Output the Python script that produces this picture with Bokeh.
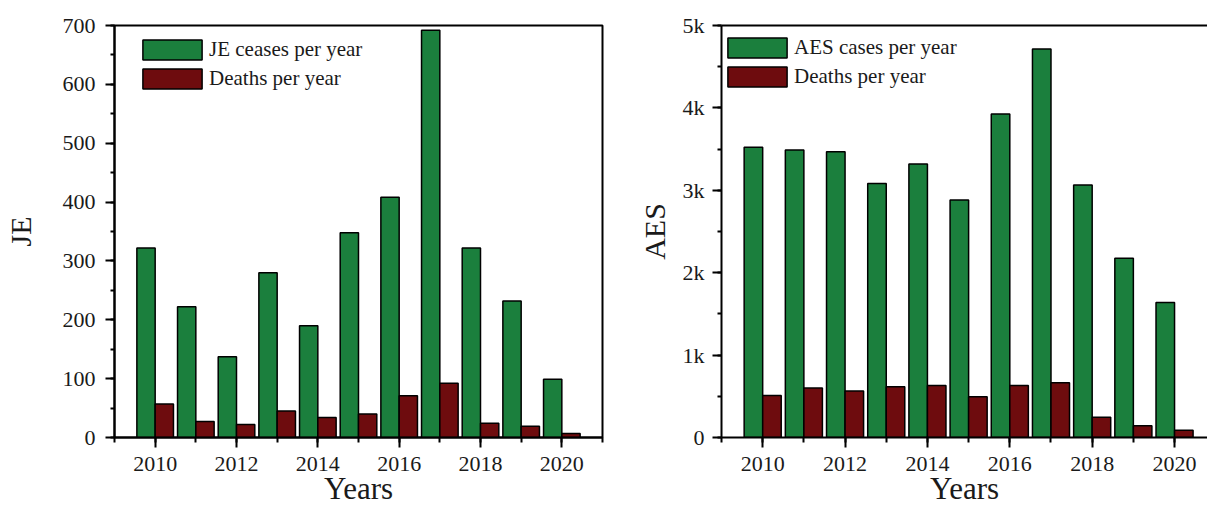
from bokeh.plotting import figure
from bokeh.models import (ColumnDataSource, SingleIntervalTicker, LinearAxis, Range1d,
                          NumeralTickFormatter, FixedTicker)
from bokeh.layouts import row
from bokeh.transform import dodge
from bokeh.embed import file_html
from bokeh.resources import INLINE

years = [2010, 2011, 2012, 2013, 2014, 2015, 2016, 2017, 2018, 2019, 2020]
je_cases = [322, 222, 137, 280, 190, 348, 408, 692, 322, 232, 99]
je_deaths = [57, 27, 22, 45, 34, 40, 71, 92, 24, 19, 7]
aes_cases = [3521, 3489, 3468, 3083, 3318, 2881, 3926, 4716, 3063, 2176, 1637]
aes_deaths = [511, 600, 563, 616, 632, 494, 632, 664, 247, 142, 89]

GREEN = "#1b7f3d"
RED = "#6e0c0e"
FONT = "Liberation Serif"


def make(cases, deaths, ymax, ystep, ylabel, case_label, fmt, width, b_left, b_right,
         x_end, leg_pos, tick_standoff, standoff, outline):
    src = ColumnDataSource(dict(year=years, cases=cases, deaths=deaths))
    p = figure(width=width, height=510, output_backend="svg", toolbar_location=None,
               x_range=Range1d(2009, x_end), y_range=Range1d(0, ymax),
               min_border_left=b_left, min_border_right=b_right,
               min_border_top=25, min_border_bottom=73)
    p.grid.visible = False
    p.background_fill_color = "white"
    p.border_fill_color = "white"

    p.vbar(x=dodge("year", -0.225, range=p.x_range), top="cases", width=0.45, source=src,
           fill_color=GREEN, line_color="black", line_width=1.5, legend_label=case_label)
    p.vbar(x=dodge("year", 0.225, range=p.x_range), top="deaths", width=0.45, source=src,
           fill_color=RED, line_color="black", line_width=1.5, legend_label="Deaths per year")

    xa = p.below[0]
    xa.ticker = SingleIntervalTicker(interval=2, num_minor_ticks=2)
    xa.axis_label = "Years"
    xa.major_tick_out = 10
    xa.minor_tick_out = 5
    xa.major_label_standoff = 9
    xa.axis_label_standoff = -3
    xa.axis_label_text_font_size = "31px"

    ya = p.left[0]
    ya.ticker = SingleIntervalTicker(interval=ystep, num_minor_ticks=2)
    ya.axis_label = ylabel
    ya.major_tick_out = 9
    ya.minor_tick_out = 4
    ya.major_label_standoff = tick_standoff
    ya.axis_label_standoff = standoff
    ya.axis_label_text_font_size = "30px"
    if fmt:
        ya.formatter = NumeralTickFormatter(format="0a")

    for ax in (xa, ya):
        ax.major_tick_in = 0
        ax.minor_tick_in = 0
        ax.axis_line_width = 2
        ax.major_tick_line_width = 2
        ax.minor_tick_line_width = 2
        ax.axis_line_color = "black"
        ax.major_tick_line_color = "black"
        ax.minor_tick_line_color = "black"
        ax.major_label_text_font = FONT
        ax.major_label_text_font_size = "22px"
        ax.major_label_text_color = "#1a1a1a"
        ax.axis_label_text_font = FONT
        ax.axis_label_text_font_style = "normal"
        ax.axis_label_text_color = "#1a1a1a"

    if outline:
        p.outline_line_color = "black"
        p.outline_line_width = 2
    else:
        p.outline_line_color = None
        top = LinearAxis(ticker=FixedTicker(ticks=[]), major_label_text_font_size="0px",
                         axis_line_width=2, axis_line_color="black",
                         major_tick_out=0, major_tick_in=0, minor_tick_out=0, minor_tick_in=0,
                         major_label_standoff=0)
        p.add_layout(top, "above")

    lg = p.legend[0]
    lg.location = leg_pos
    lg.margin = 0
    lg.padding = 0
    lg.spacing = 4
    lg.glyph_width = 74
    lg.glyph_height = 25
    lg.label_height = 20
    lg.label_standoff = 0
    lg.label_text_font = FONT
    lg.label_text_font_size = "21px"
    lg.label_text_color = "#1a1a1a"
    lg.background_fill_alpha = 0
    lg.border_line_color = None
    return p


p1 = make(je_cases, je_deaths, 700, 100, "JE", "JE ceases per year", False,
          607, 105, 5, 2021.0, (21, 346), 10, 23, True)
p2 = make(aes_cases, aes_deaths, 5000, 1000, "AES", "AES cases per year", True,
          600, 114, 0, 2020.8, (-1, 348), 8, 9, False)

layout = row(p1, p2)
open("out.html", "w").write(file_html(layout, INLINE))
